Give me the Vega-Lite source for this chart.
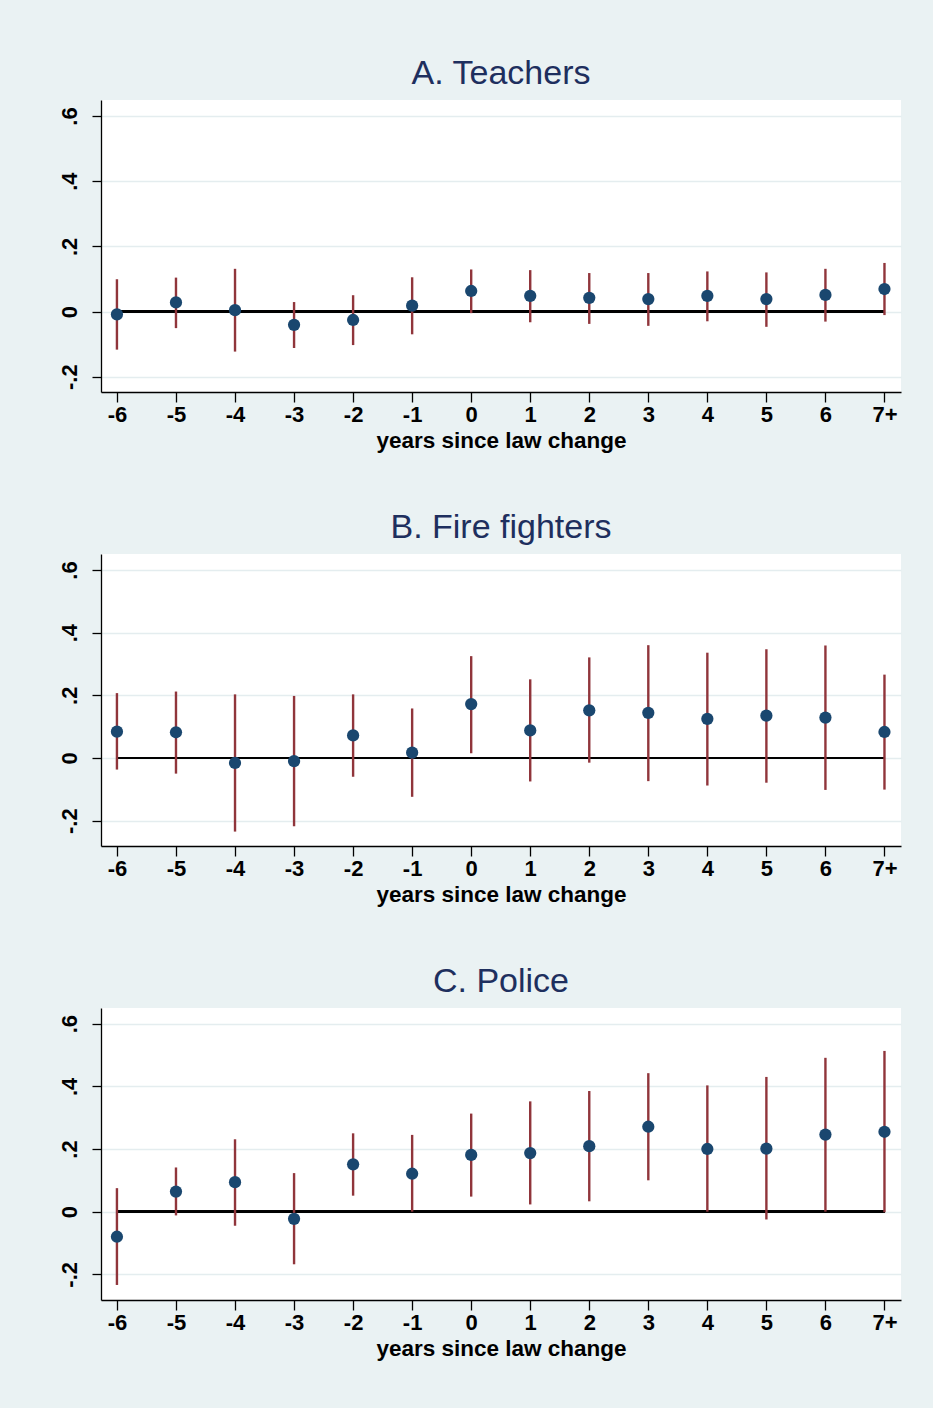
{
  "$schema": "https://vega.github.io/schema/vega-lite/v6.json",
  "background": "#EAF2F3",
  "padding": {"left": 58, "top": 57, "right": 33, "bottom": 48},
  "bounds": "flush",
  "spacing": 162,
  "config": {
    "font": "Liberation Sans",
    "view": {"fill": "white", "stroke": null},
    "title": {"fontSize": 34, "fontWeight": "normal", "color": "#1E2F5E", "anchor": "middle", "baseline": "alphabetic", "offset": 9},
    "axis": {"domainColor": "black", "tickColor": "black", "labelColor": "black", "titleColor": "black", "labelFont": "Liberation Sans", "titleFont": "Liberation Sans", "labelFontWeight": "bold", "titleFontWeight": "bold", "domainWidth": 1.3, "tickWidth": 1.3},
    "axisX": {"labelFontSize": 22, "titleFontSize": 22.5, "grid": false, "tickSize": 10, "labelPadding": 2, "titlePadding": 4},
    "axisY": {"labelFontSize": 22, "labelAngle": -90, "tickSize": 9, "labelPadding": 11, "grid": true, "gridColor": "#E4EDEF", "gridWidth": 1.5}
  },
  "datasets": {
    "teachers": [
      {"t": -6, "b": -0.009, "lo": -0.117, "hi": 0.099},
      {"t": -5, "b": 0.028, "lo": -0.051, "hi": 0.104},
      {"t": -4, "b": 0.004, "lo": -0.123, "hi": 0.131},
      {"t": -3, "b": -0.041, "lo": -0.112, "hi": 0.029},
      {"t": -2, "b": -0.026, "lo": -0.103, "hi": 0.050},
      {"t": -1, "b": 0.018, "lo": -0.070, "hi": 0.105},
      {"t": 0, "b": 0.063, "lo": -0.005, "hi": 0.129},
      {"t": 1, "b": 0.048, "lo": -0.033, "hi": 0.127},
      {"t": 2, "b": 0.042, "lo": -0.038, "hi": 0.118},
      {"t": 3, "b": 0.038, "lo": -0.044, "hi": 0.118},
      {"t": 4, "b": 0.048, "lo": -0.030, "hi": 0.123},
      {"t": 5, "b": 0.038, "lo": -0.047, "hi": 0.120},
      {"t": 6, "b": 0.051, "lo": -0.031, "hi": 0.131},
      {"t": 7, "b": 0.069, "lo": -0.011, "hi": 0.149}
    ],
    "fire": [
      {"t": -6, "b": 0.084, "lo": -0.037, "hi": 0.207},
      {"t": -5, "b": 0.082, "lo": -0.050, "hi": 0.212},
      {"t": -4, "b": -0.016, "lo": -0.235, "hi": 0.203},
      {"t": -3, "b": -0.010, "lo": -0.218, "hi": 0.198},
      {"t": -2, "b": 0.072, "lo": -0.060, "hi": 0.203},
      {"t": -1, "b": 0.017, "lo": -0.124, "hi": 0.158},
      {"t": 0, "b": 0.172, "lo": 0.015, "hi": 0.325},
      {"t": 1, "b": 0.088, "lo": -0.075, "hi": 0.251},
      {"t": 2, "b": 0.152, "lo": -0.015, "hi": 0.321},
      {"t": 3, "b": 0.144, "lo": -0.074, "hi": 0.360},
      {"t": 4, "b": 0.125, "lo": -0.088, "hi": 0.336},
      {"t": 5, "b": 0.135, "lo": -0.079, "hi": 0.347},
      {"t": 6, "b": 0.129, "lo": -0.102, "hi": 0.359},
      {"t": 7, "b": 0.083, "lo": -0.101, "hi": 0.266}
    ],
    "police": [
      {"t": -6, "b": -0.080, "lo": -0.234, "hi": 0.075},
      {"t": -5, "b": 0.064, "lo": -0.012, "hi": 0.141},
      {"t": -4, "b": 0.094, "lo": -0.045, "hi": 0.231},
      {"t": -3, "b": -0.023, "lo": -0.168, "hi": 0.123},
      {"t": -2, "b": 0.151, "lo": 0.051, "hi": 0.250},
      {"t": -1, "b": 0.121, "lo": 0.000, "hi": 0.245},
      {"t": 0, "b": 0.181, "lo": 0.048, "hi": 0.313},
      {"t": 1, "b": 0.187, "lo": 0.023, "hi": 0.352},
      {"t": 2, "b": 0.209, "lo": 0.033, "hi": 0.385},
      {"t": 3, "b": 0.271, "lo": 0.100, "hi": 0.442},
      {"t": 4, "b": 0.200, "lo": 0.000, "hi": 0.403},
      {"t": 5, "b": 0.201, "lo": -0.025, "hi": 0.430},
      {"t": 6, "b": 0.246, "lo": 0.000, "hi": 0.491},
      {"t": 7, "b": 0.255, "lo": -0.002, "hi": 0.513}
    ]
  },
  "vconcat": [
    {
      "title": "A. Teachers",
      "width": 800, "height": 292,
      "data": {"name": "teachers"},
      "encoding": {
        "x": {"field": "t", "type": "quantitative", "scale": {"domain": [-6.27, 7.28], "nice": false, "zero": false}, "axis": {"title": "years since law change", "values": [-6,-5,-4,-3,-2,-1,0,1,2,3,4,5,6,7], "labelExpr": "datum.value == 7 ? '7+' : '' + datum.value"}}
      },
      "layer": [
        {"mark": {"type": "rule", "color": "black", "strokeWidth": 2}, "encoding": {"x": {"datum": -6}, "x2": {"datum": 7}, "y": {"datum": 0, "type": "quantitative"}}},
        {"mark": {"type": "rule", "color": "#90353B", "strokeWidth": 2.4}, "encoding": {"y": {"field": "lo", "type": "quantitative", "scale": {"domain": [-0.247, 0.649], "nice": false, "zero": false}, "axis": {"title": null, "values": [-0.2, 0, 0.2, 0.4, 0.6], "labelExpr": "datum.value < 0 ? '-.' + format(-datum.value * 10, '.0f') : (datum.value == 0 ? '0' : '.' + format(datum.value * 10, '.0f'))"}}, "y2": {"field": "hi"}}},
        {"mark": {"type": "circle", "color": "#1A476F", "size": 150, "opacity": 1}, "encoding": {"y": {"field": "b", "type": "quantitative"}}}
      ]
    },
    {
      "title": "B. Fire fighters",
      "width": 800, "height": 292,
      "data": {"name": "fire"},
      "encoding": {
        "x": {"field": "t", "type": "quantitative", "scale": {"domain": [-6.27, 7.28], "nice": false, "zero": false}, "axis": {"title": "years since law change", "values": [-6,-5,-4,-3,-2,-1,0,1,2,3,4,5,6,7], "labelExpr": "datum.value == 7 ? '7+' : '' + datum.value"}}
      },
      "layer": [
        {"mark": {"type": "rule", "color": "black", "strokeWidth": 2}, "encoding": {"x": {"datum": -6}, "x2": {"datum": 7}, "y": {"datum": 0, "type": "quantitative"}}},
        {"mark": {"type": "rule", "color": "#90353B", "strokeWidth": 2.4}, "encoding": {"y": {"field": "lo", "type": "quantitative", "scale": {"domain": [-0.281, 0.651], "nice": false, "zero": false}, "axis": {"title": null, "values": [-0.2, 0, 0.2, 0.4, 0.6], "labelExpr": "datum.value < 0 ? '-.' + format(-datum.value * 10, '.0f') : (datum.value == 0 ? '0' : '.' + format(datum.value * 10, '.0f'))"}}, "y2": {"field": "hi"}}},
        {"mark": {"type": "circle", "color": "#1A476F", "size": 150, "opacity": 1}, "encoding": {"y": {"field": "b", "type": "quantitative"}}}
      ]
    },
    {
      "title": "C. Police",
      "width": 800, "height": 292,
      "data": {"name": "police"},
      "encoding": {
        "x": {"field": "t", "type": "quantitative", "scale": {"domain": [-6.27, 7.28], "nice": false, "zero": false}, "axis": {"title": "years since law change", "values": [-6,-5,-4,-3,-2,-1,0,1,2,3,4,5,6,7], "labelExpr": "datum.value == 7 ? '7+' : '' + datum.value"}}
      },
      "layer": [
        {"mark": {"type": "rule", "color": "black", "strokeWidth": 2}, "encoding": {"x": {"datum": -6}, "x2": {"datum": 7}, "y": {"datum": 0, "type": "quantitative"}}},
        {"mark": {"type": "rule", "color": "#90353B", "strokeWidth": 2.4}, "encoding": {"y": {"field": "lo", "type": "quantitative", "scale": {"domain": [-0.282, 0.650], "nice": false, "zero": false}, "axis": {"title": null, "values": [-0.2, 0, 0.2, 0.4, 0.6], "labelExpr": "datum.value < 0 ? '-.' + format(-datum.value * 10, '.0f') : (datum.value == 0 ? '0' : '.' + format(datum.value * 10, '.0f'))"}}, "y2": {"field": "hi"}}},
        {"mark": {"type": "circle", "color": "#1A476F", "size": 150, "opacity": 1}, "encoding": {"y": {"field": "b", "type": "quantitative"}}}
      ]
    }
  ]
}
